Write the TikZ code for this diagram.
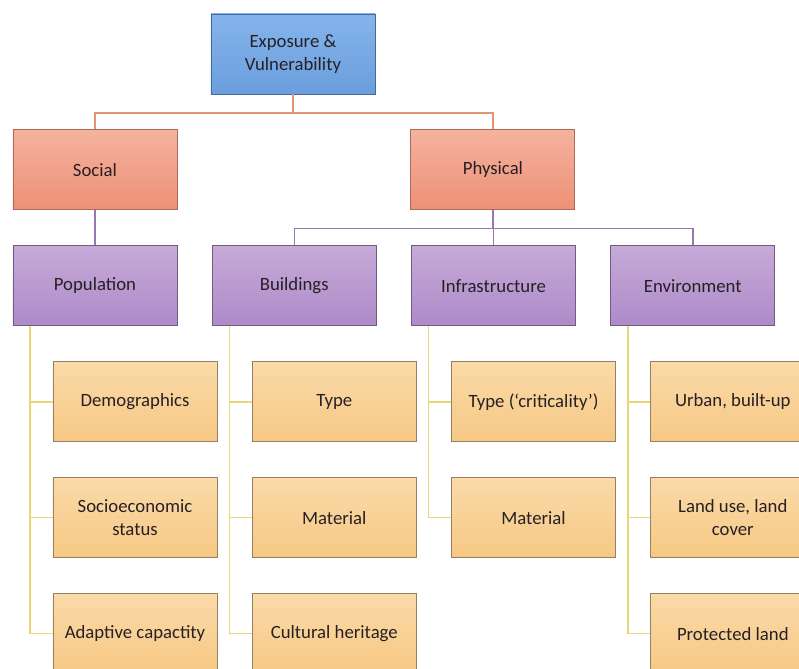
\documentclass[tikz,border=0pt]{standalone}
\usepackage{fontspec}
\setmainfont{Carlito}
\usepackage{tikz}
\usetikzlibrary{positioning}
\definecolor{inktext}{RGB}{38,32,36}
\definecolor{roottop}{RGB}{132,180,234}
\definecolor{rootbot}{RGB}{108,158,222}
\definecolor{rootline}{RGB}{72,104,150}
\definecolor{grouptop}{RGB}{244,178,158}
\definecolor{groupbot}{RGB}{238,144,118}
\definecolor{groupline}{RGB}{176,104,92}
\definecolor{subtop}{RGB}{198,170,216}
\definecolor{subbot}{RGB}{174,138,200}
\definecolor{subline}{RGB}{112,92,128}
\definecolor{itemtop}{RGB}{250,218,168}
\definecolor{itembot}{RGB}{247,200,132}
\definecolor{itemline}{RGB}{150,128,100}
\definecolor{rootwire}{RGB}{226,150,112}
\definecolor{subwire}{RGB}{150,120,176}
\definecolor{itemwire}{RGB}{232,214,120}
\tikzset{
  box/.style={draw, line width=0.8pt, minimum width=4.92cm, minimum height=2.40cm, align=center, text=inktext, font=\fontsize{16}{19.5}\selectfont},
  rootbox/.style={box, draw=rootline, top color=roottop, bottom color=rootbot},
  groupbox/.style={box, draw=groupline, top color=grouptop, bottom color=groupbot},
  subbox/.style={box, draw=subline, top color=subtop, bottom color=subbot},
  itembox/.style={box, draw=itemline, top color=itemtop, bottom color=itembot},
  rootlink/.style={draw=rootwire, line width=1.3pt},
  sublink/.style={draw=subwire, line width=1.2pt},
  itemlink/.style={draw=itemwire, line width=1.2pt}
}

\begin{document}
\begin{tikzpicture}[node distance=1.05cm and 1.03cm]
\useasboundingbox (-8.79,1.62) rectangle (15.18,-18.42);
\fill[white] (-8.79,1.62) rectangle (15.18,-18.42);
\clip (-8.79,1.62) rectangle (15.18,-18.42);
% top levels
\node[rootbox] (expo) {Exposure \&\\Vulnerability};
\node[groupbox, below=of expo, xshift=-5.94cm] (social) {Social};
\node[groupbox, right=6.99cm of social] (physical) {Physical};
\node[subbox, below=of social] (population) {Population};
\node[subbox, right=of population] (buildings) {Buildings};
\node[subbox, right=of buildings] (infra) {Infrastructure};
\node[subbox, right=of infra] (environ) {Environment};
% items
\node[itembox, below=of population, xshift=1.2cm] (demog) {Demographics};
\node[itembox, below=of demog] (socio) {Socioeconomic\\status};
\node[itembox, below=of socio] (adapt) {Adaptive capactity};
\node[itembox, below=of buildings, xshift=1.2cm] (btype) {Type};
\node[itembox, below=of btype] (bmat) {Material};
\node[itembox, below=of bmat] (bheri) {Cultural heritage};
\node[itembox, below=of infra, xshift=1.2cm] (itype) {Type (`criticality')};
\node[itembox, below=of itype] (imat) {Material};
\node[itembox, below=of environ, xshift=1.2cm] (urban) {Urban, built-up};
\node[itembox, below=of urban] (landuse) {Land use, land\\cover};
\node[itembox, below=of landuse] (protect) {Protected land};
% connectors
\coordinate[below=0.55cm of expo.south] (rootbar);
\draw[rootlink] (expo.south) -- (rootbar) -| (social.north);
\draw[rootlink] (rootbar) -| (physical.north);
\coordinate[below=0.55cm of physical.south] (physbar);
\draw[sublink] (physical.south) -- (physbar);
\foreach \n in {buildings,infra,environ}
  \draw[sublink] (physbar) -| (\n.north);
\draw[sublink] (social) -- (population);
\foreach \p/\c in {population/demog,population/socio,population/adapt,buildings/btype,buildings/bmat,buildings/bheri,infra/itype,infra/imat,environ/urban,environ/landuse,environ/protect}
  \draw[itemlink] ([xshift=0.53cm]\p.south west) |- (\c.west);
\end{tikzpicture}
\end{document}
